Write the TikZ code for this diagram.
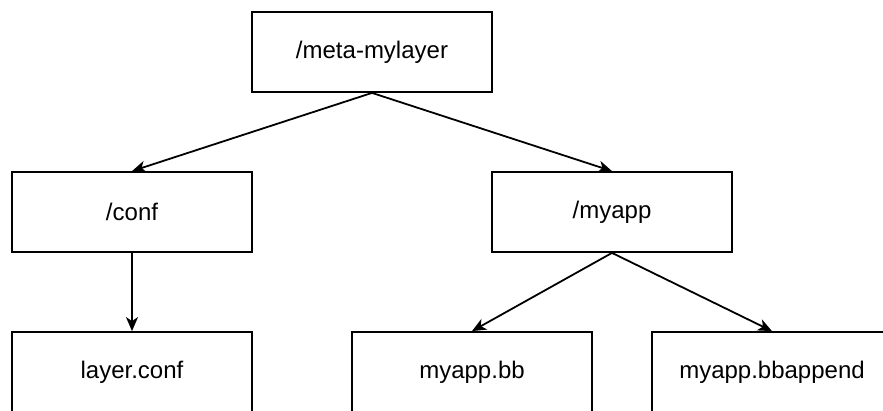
\documentclass[tikz,border=0pt]{standalone}
\usepackage{fontspec}
\setmainfont{Liberation Sans}
\usetikzlibrary{arrows.meta}
\begin{document}
\begin{tikzpicture}[x=1pt,y=-1pt,
  box/.style={draw=black,line width=1.8pt,fill=white,minimum width=240pt,minimum height=80pt,inner sep=0pt,font=\fontsize{24}{27}\selectfont,anchor=center},
  conn/.style={line width=1.8pt,-{Stealth[length=14pt,width=12pt,inset=4pt]}}]
\useasboundingbox (0,0) rectangle (883,410);
\clip (0,0) rectangle (883,410);
\fill[white] (0,0) rectangle (883,410);
\node[box] (top) at (372,52) {/meta-mylayer};
\node[box] (conf) at (132,212) {/conf};
\node[box] (myapp) at (612,212) {/myapp};
\node[box] (layer) at (132,372) {layer.conf};
\node[box] (bb) at (472,372) {myapp.bb};
\node[box] (bbappend) at (772,372) {myapp.bbappend};
\draw[conn] (top.south) -- (conf.north);
\draw[conn] (top.south) -- (myapp.north);
\draw[conn] (conf.south) -- (layer.north);
\draw[conn] (myapp.south) -- (bb.north);
\draw[conn] (myapp.south) -- (bbappend.north);
\end{tikzpicture}
\end{document}
